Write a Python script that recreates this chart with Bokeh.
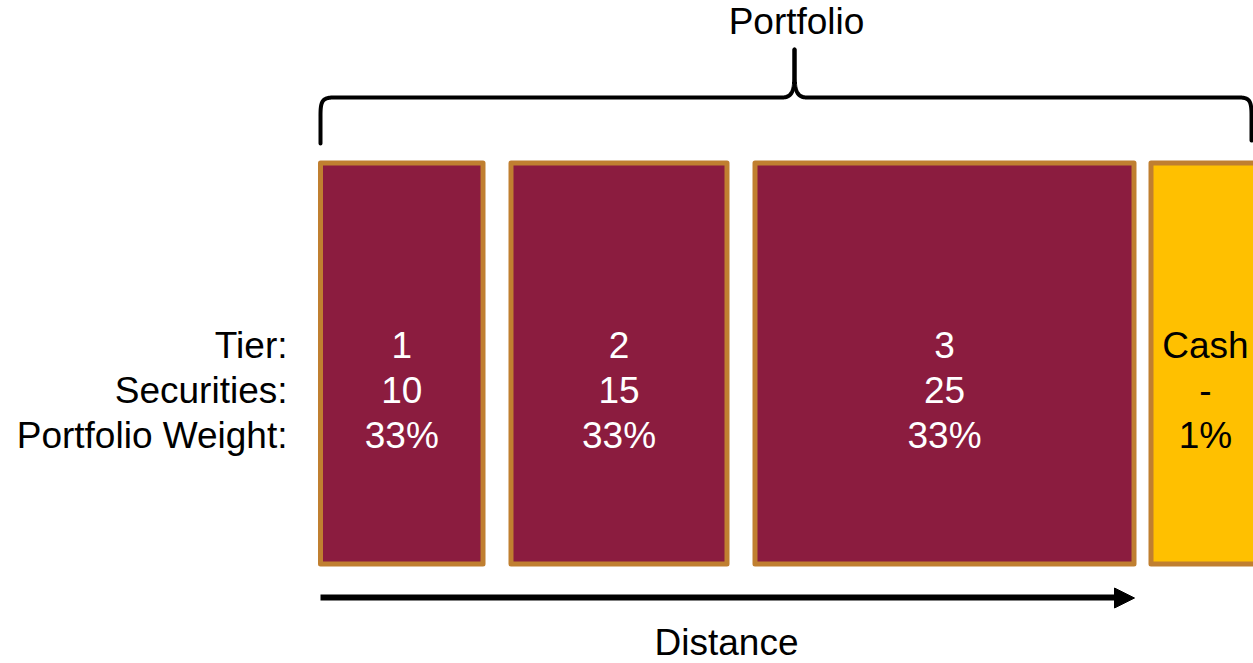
import numpy as np
from bokeh.plotting import figure
from bokeh.models import Range1d, ColumnDataSource
from bokeh.core.properties import value
from bokeh.embed import file_html
from bokeh.resources import INLINE

# ---- data ----
tiers = ["1", "2", "3", "Cash"]
securities = ["10", "15", "25", "-"]
weights = ["33%", "33%", "33%", "1%"]
row_labels = ["Tier:", "Securities:", "Portfolio Weight:"]
title_text = "Portfolio"
axis_text = "Distance"

# ---- layout (pixel space) ----
W, H = 1253, 663
box_left = [320, 510.5, 754.5, 1150.5]
box_right = [482.5, 726.5, 1133.5, 1263]
box_top, box_bottom = 162.5, 563.5
SHIFT = 13.5  # svg baseline correction
row_baselines = [358 - SHIFT, 403 - SHIFT, 448 - SHIFT]
fills = ["#8B1C3F", "#8B1C3F", "#8B1C3F", "#FFC000"]
text_colors = ["white", "white", "white", "black"]
FONT = value("Liberation Sans")
FS = value("37px")

p = figure(width=W, height=H, x_range=Range1d(0, W), y_range=Range1d(H, 0),
           output_backend="svg", toolbar_location=None, min_border=0)
p.axis.visible = False
p.grid.visible = False
p.outline_line_color = None
p.background_fill_color = "white"
p.border_fill_color = "white"

src = ColumnDataSource(dict(left=box_left, right=box_right,
                            top=[box_top] * 4, bottom=[box_bottom] * 4,
                            fill=fills))
p.quad(left="left", right="right", top="top", bottom="bottom", source=src,
       fill_color="fill", line_color="#C07F30", line_width=5, line_join="round")

# texts in boxes
cx = [(l + r) / 2 for l, r in zip(box_left, box_right)]
cx[3] = 1205
for rows, yb in zip([tiers, securities, weights], row_baselines):
    p.text(x=cx, y=[yb] * 4, text=rows, text_color=text_colors,
           text_align="center", text_baseline="alphabetic",
           text_font=FONT, text_font_size=FS)

# row labels
p.text(x=[287] * 3, y=row_baselines, text=row_labels, text_color="black",
       text_align="right", text_baseline="alphabetic",
       text_font=FONT, text_font_size=FS)

# title and axis label
p.text(x=[796], y=[34 - SHIFT], text=[title_text], text_color="black",
       text_align="center", text_baseline="alphabetic",
       text_font=FONT, text_font_size=FS)
p.text(x=[726], y=[655 - SHIFT], text=[axis_text], text_color="black",
       text_align="center", text_baseline="alphabetic",
       text_font=FONT, text_font_size=FS)

# arrow
p.line(x=[320, 1116], y=[597, 597], line_color="black", line_width=6)
p.patch(x=[1114, 1134, 1114], y=[587.5, 597.5, 607.5], fill_color="black", line_color="black", line_width=1)

# brace
def cubic(p0, p1, p2, p3, n=30):
    t = np.linspace(0, 1, n)[:, None]
    pts = ((1 - t) ** 3) * np.array(p0) + 3 * ((1 - t) ** 2) * t * np.array(p1) \
        + 3 * (1 - t) * t ** 2 * np.array(p2) + t ** 3 * np.array(p3)
    return pts

bx0, bx1, bmid, by, btip, bend = 320, 1251, 794, 97, 49, 143
segs = [
    np.array([[bx0, bend], [bx0, 115]]),
    cubic((bx0, 115), (bx0, 100), (322, by), (334, by)),
    np.array([[334, by], [781, by]]),
    cubic((781, by), (791, by), (bmid, 92), (bmid, 72)),
    np.array([[bmid, 72], [bmid, btip]]),
]
left_path = np.vstack(segs)
right_segs = [
    np.array([[bmid, btip], [bmid, 72]]),
    cubic((bmid, 72), (bmid, 92), (797, by), (807, by)),
    np.array([[807, by], [1238, by]]),
    cubic((1238, by), (1249, by), (bx1, 100), (bx1, 115)),
    np.array([[bx1, 115], [bx1, 140]]),
]
right_path = np.vstack(right_segs)
for path in (left_path, right_path):
    p.line(x=path[:, 0], y=path[:, 1], line_color="black", line_width=4,
           line_join="round", line_cap="round")

open("out.html", "w").write(file_html(p, INLINE))
